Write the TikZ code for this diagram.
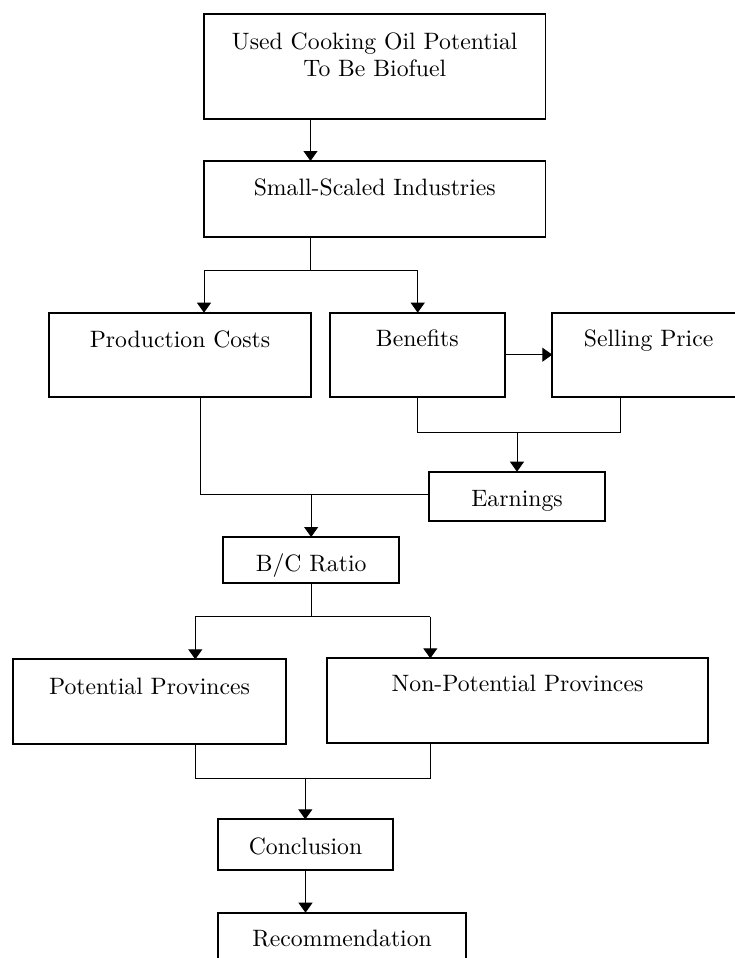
\documentclass[tikz,border=0pt]{standalone}
\usepackage{fontspec}
\setmainfont{lmroman10-regular}[Extension=.otf]
\usetikzlibrary{arrows.meta}
\begin{document}
\begin{tikzpicture}[x=1pt,y=-1pt,
  box/.style={draw=black, line width=1.8pt, anchor=north west, inner sep=0pt, outer sep=0pt, minimum width=#1},
  txt/.style={anchor=base, inner sep=0pt, font=\fontsize{23.7}{26.7}\selectfont},
  conn/.style={draw=black, line width=1pt},
  arr/.style={conn, -{Triangle[width=14pt,length=10pt]}}]
\useasboundingbox (0,0) rectangle (734,958);
% boxes
\node[box=341.5pt, minimum height=105.3pt] (top)  at (204,14) {};
\node[box=341.5pt, minimum height=75.7pt]  (ssi)  at (204,161) {};
\node[box=261.4pt, minimum height=84pt]    (prod) at (49.3,312.7) {};
\node[box=174.7pt, minimum height=84pt]    (ben)  at (330,312.7) {};
\node[box=192.7pt, minimum height=83.7pt]  (sell) at (552.3,313) {};
\node[box=176pt,   minimum height=49.3pt]  (earn) at (429,471.7) {};
\node[box=175.7pt, minimum height=46pt]    (bc)   at (223.3,537) {};
\node[box=272.4pt, minimum height=85pt]    (pot)  at (13.3,659.3) {};
\node[box=380.4pt, minimum height=84.4pt]  (non)  at (327.3,658.3) {};
\node[box=174.4pt, minimum height=50.7pt]  (conc) at (218.3,819.3) {};
\node[box=247.7pt, minimum height=80pt]    (rec)  at (218.3,912.7) {};
% texts
\node[txt, anchor=north, align=center] (ttop) at ([yshift=-19pt]top.north) {Used Cooking Oil Potential\\To Be Biofuel};
\node[txt] (tssi)  at ([yshift=-34pt]ssi.north)  {Small-Scaled Industries};
\node[txt] (tprod) at ([yshift=-34.5pt]prod.north) {Production Costs};
\node[txt] (tben)  at ([yshift=-34pt]ben.north)  {Benefits};
\node[txt] (tsell) at ([yshift=-33.7pt]sell.north) {Selling Price};
\node[txt] (tearn) at ([yshift=-34.3pt]earn.north) {Earnings};
\node[txt] (tbc)   at ([yshift=-34pt]bc.north)   {B/C Ratio};
\node[txt] (tpot)  at ([yshift=-34.7pt]pot.north)  {Potential Provinces};
\node[txt] (tnon)  at ([yshift=-33.4pt]non.north)  {Non-Potential Provinces};
\node[txt] (tconc) at ([yshift=-34.7pt]conc.north) {Conclusion};
\node[txt] (trec)  at ([yshift=-34pt]rec.north)  {Recommendation};
% junction coordinates
\coordinate (c0) at (310.5,0);
\coordinate (ja) at (204,270);
\coordinate (jm) at (310.7,270);
\coordinate (jb) at (417.7,270);
\coordinate (jc) at (620,432.3);
\coordinate (jd) at (200.7,494.5);
\coordinate (je) at (195.3,616.7);
\coordinate (jf) at (430.3,616.7);
\coordinate (jg) at (195,778.3);
\coordinate (jh) at (430,778.3);
\coordinate (jk) at (305.3,778.3);
% connectors
\draw[arr] (c0 |- top.south) -- (c0 |- ssi.north);
\draw[conn] (jm |- ssi.south) -- (jm);
\draw[conn] (ja) -- (jb);
\draw[arr] (ja) -- (ja |- prod.north);
\draw[arr] (jb) -- (jb |- ben.north);
\draw[arr] (ben.east) -- (ben.east -| sell.west);
\draw[conn] (ben.south) |- (jc) -- (jc |- sell.south);
\draw[arr] (earn.north |- jc) -- (earn.north);
\draw[conn] (jd |- prod.south) -- (jd) -- (jd -| earn.west);
\draw[arr] (bc.north |- jd) -- (bc.north);
\draw[conn] (bc.south) -- (bc.south |- je);
\draw[conn] (je) -- (jf);
\draw[arr] (je) -- (je |- pot.north);
\draw[arr] (jf) -- (jf |- non.north);
\draw[conn] (jg |- pot.south) -- (jg) -- (jh) -- (jh |- non.south);
\draw[arr] (jk) -- (jk |- conc.north);
\draw[arr] (conc.south) -- (conc.south |- rec.north);
\end{tikzpicture}
\end{document}
